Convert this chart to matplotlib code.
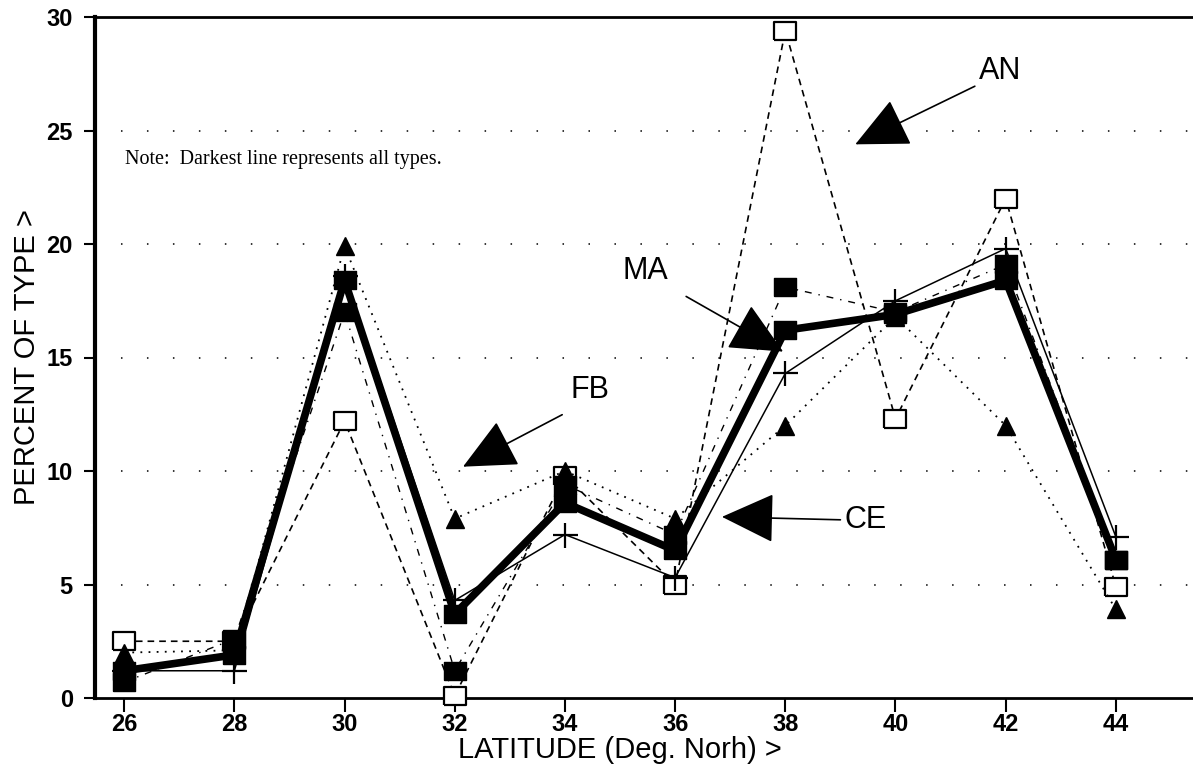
import numpy as np
import matplotlib
matplotlib.use("Agg")
import matplotlib.pyplot as plt

# latitude bins (deg north)
latitude = [26, 28, 30, 32, 34, 36, 38, 40, 42, 44]

# percent of each type per latitude
all_types = [1.2, 1.9, 18.4, 3.7, 8.6, 6.5, 16.2, 16.9, 18.4, 6.1]
an_pct = [2.5, 2.5, 12.2, 0.1, 9.8, 5.0, 29.4, 12.3, 22.0, 4.9]
fb_pct = [2.0, 2.1, 19.9, 7.9, 10.0, 7.9, 12.0, 16.8, 12.0, 3.9]
ma_pct = [0.7, 2.6, 17.0, 1.2, 9.4, 7.2, 18.1, 17.0, 19.1, 6.1]
ce_pct = [1.2, 1.2, 18.6, 4.3, 7.2, 5.3, 14.3, 17.5, 19.8, 7.1]

y_ticks = [0, 5, 10, 15, 20, 25, 30]
note = "Note:  Darkest line represents all types."

# wide rectangle marker like the original plotter output
box = [(-1.3, -1), (1.3, -1), (1.3, 1), (-1.3, 1), (-1.3, -1)]

fig = plt.figure(figsize=(11.93, 7.70), dpi=100)
ax = fig.add_axes([95 / 1193, 1 - 698 / 770, 1 - 95 / 1193, (698 - 17) / 770])

# faint dotted horizontal grid
for yv in y_ticks[1:-1]:
    ax.axhline(yv, color='black', lw=1.1, ls=(0, (1, 16)), zorder=0)

ax.plot(latitude, an_pct, color='black', lw=1.2, ls=(0, (4, 3)),
        marker=box, ms=16, mfc='white', mec='black', mew=1.6, zorder=3, clip_on=False)
ax.plot(latitude, fb_pct, color='black', lw=1.3, ls=(0, (1, 3.5)),
        marker='^', ms=13, mfc='black', mec='black', zorder=4, clip_on=False)
ax.plot(latitude, ma_pct, color='black', lw=1.0, ls=(0, (5, 5, 1, 5)),
        marker=box, ms=16.5, mfc='black', mec='black', zorder=4, clip_on=False)
ax.plot(latitude, ce_pct, color='black', lw=1.1, ls='-',
        marker='+', ms=18, mew=1.6, zorder=5, clip_on=False)
ax.plot(latitude, all_types, color='black', lw=5.5, ls='-',
        marker=box, ms=16.5, mfc='black', mec='black', zorder=6, clip_on=False)

ax.set_xlim(25.47, 45.4)
ax.set_ylim(0, 30)
ax.set_xticks(latitude)
ax.set_yticks(y_ticks)

for lab in ax.get_xticklabels():
    lab.set_fontfamily(['Liberation Sans Narrow', 'Liberation Sans'])
    lab.set_fontweight('bold')
    lab.set_fontsize(17)
for lab in ax.get_yticklabels():
    lab.set_fontfamily('Liberation Sans')
    lab.set_fontweight('bold')
    lab.set_fontsize(17)

ax.tick_params(axis='x', direction='out', length=10, width=1.5, pad=1)
ax.tick_params(axis='y', direction='out', length=8, width=1.5, pad=8)

ax.spines['right'].set_visible(False)
ax.spines['left'].set_linewidth(3)
ax.spines['bottom'].set_linewidth(2)
ax.spines['top'].set_linewidth(2)

ax.set_xlabel("LATITUDE (Deg. Norh) >", fontsize=21, family='Liberation Sans')
ax.xaxis.set_label_coords(0.478, -0.0565)
ax.set_ylabel("PERCENT OF TYPE >", fontsize=21, family='Liberation Sans', labelpad=4)

ax.text(26.02, 23.73, note, fontsize=14.5, family='Liberation Serif', va='center', ha='left')

# labels with big filled arrow heads
arrow = dict(arrowstyle='-|>,head_length=0.85,head_width=0.4', mutation_scale=40,
             lw=1.2, color='black', shrinkA=0, shrinkB=0)
labels = [("AN", (41.9, 27.6), (41.44, 26.95), (39.27, 24.39)),
          ("MA", (35.46, 18.8), (36.2, 17.69), (37.96, 15.26)),
          ("FB", (34.46, 13.55), (33.95, 12.48), (32.15, 10.19)),
          ("CE", (39.45, 7.85), (39.0, 7.85), (36.85, 7.98))]
for name, txt_pos, start, tip in labels:
    ax.text(txt_pos[0], txt_pos[1], name, fontsize=22, family='Liberation Sans',
            ha='center', va='center')
    ax.annotate('', xy=tip, xytext=start, arrowprops=arrow, zorder=7)

plt.savefig("out.png", dpi=100)
